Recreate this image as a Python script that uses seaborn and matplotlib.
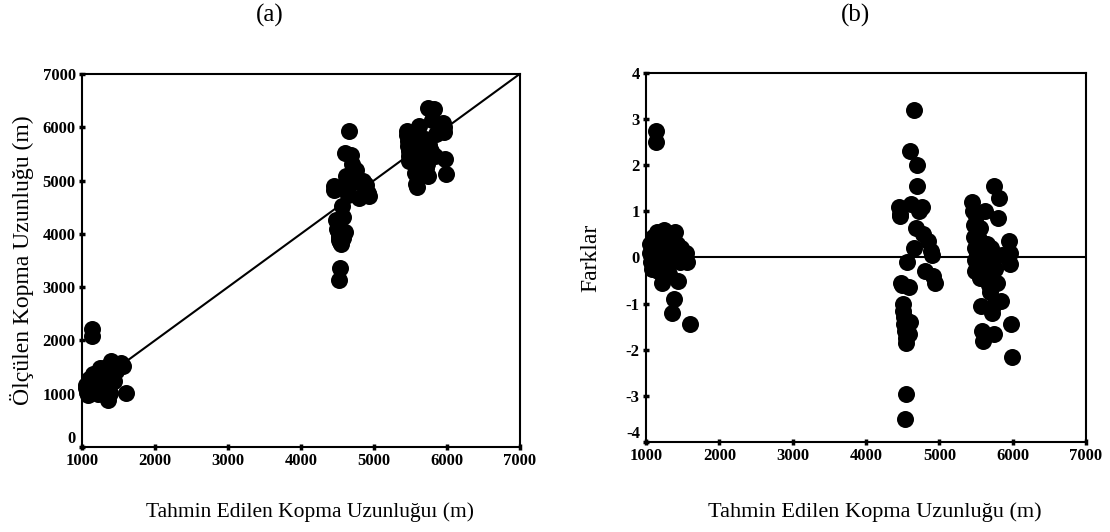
import matplotlib
matplotlib.use("Agg")
import matplotlib.pyplot as plt
import seaborn as sns
import pandas as pd

# ---------------- data ----------------
pred_low = [1050, 1060, 1070, 1080, 1090, 1100, 1110, 1130, 1140, 1150, 1170, 1190, 1200, 1220, 1240,
            1260, 1280, 1300, 1320, 1340, 1360, 1380, 1400, 1420, 1440, 1460, 1480, 1540, 1560, 1600]
meas_low = [1170, 1100, 1030, 980, 1270, 1180, 1110, 2210, 2090, 1370, 1050, 1330, 1240, 1000, 1480,
            1360, 1240, 1480, 1180, 1400, 880, 1020, 1620, 1540, 1240, 1420, 1560, 1580, 1520, 1020]
diff_low = [0.3, 0.1, -0.1, -0.25, 0.45, 0.2, 0.0, 2.75, 2.5, 0.55, -0.3, 0.35, 0.1, -0.55, 0.6,
            0.25, -0.1, 0.45, -0.35, 0.15, -1.2, -0.9, 0.55, 0.3, -0.5, -0.1, 0.2, 0.1, -0.1, -1.45]

pred_mid = [4450, 4460, 4470, 4480, 4490, 4500, 4510, 4520, 4520, 4530, 4540, 4550, 4540, 4530, 4560,
            4580, 4600, 4620, 4650, 4660, 4680, 4690, 4700, 4720, 4760, 4780, 4800, 4850, 4880, 4900,
            4920, 4940, 4600, 4580]
meas_mid = [4890, 4820, 4850, 4260, 4250, 4100, 4050, 4000, 3940, 3890, 3840, 3810, 3360, 3130, 4520,
            4320, 5520, 5080, 4730, 5940, 4940, 5490, 5320, 5120, 5200, 4980, 4680, 4990, 4940, 4920,
            4760, 4720, 4040, 3920]
diff_mid = [1.1, 0.9, 0.95, -0.55, -0.6, -1.0, -1.15, -1.3, -1.45, -1.6, -1.75, -1.85, -2.95, -3.5, -0.1,
            -0.65, 2.3, 1.15, 0.2, 3.2, 0.65, 2.0, 1.55, 1.0, 1.1, 0.5, -0.3, 0.35, 0.15, 0.05,
            -0.4, -0.55, -1.4, -1.65]

pred_high = [5450, 5460, 5470, 5470, 5480, 5480, 5490, 5500, 5510, 5520, 5540, 5550, 5560, 5570, 5580,
             5600, 5600, 5620, 5640, 5650, 5660, 5680, 5690, 5700, 5720, 5730, 5740, 5750, 5760, 5780,
             5800, 5820, 5840, 5860, 5950, 5960, 5970, 5980, 5990]
meas_high = [5930, 5860, 5750, 5650, 5560, 5460, 5370, 5860, 5550, 5440, 5700, 5810, 5380, 5150, 4940,
             4880, 5620, 6020, 5500, 5770, 5620, 5440, 5390, 5780, 5240, 5310, 5080, 6370, 5660, 5560,
             6140, 6340, 5460, 5880, 6090, 6000, 5910, 5400, 5130]
diff_high = [1.2, 1.0, 0.7, 0.45, 0.2, -0.05, -0.3, 0.9, 0.1, -0.2, 0.4, 0.65, -0.45, -1.05, -1.6,
             -1.8, 0.05, 1.0, -0.35, 0.3, -0.1, -0.6, -0.75, 0.2, -1.2, -1.05, -1.65, 1.55, -0.25, -0.55,
             0.85, 1.3, -0.95, 0.05, 0.35, 0.1, -0.15, -1.45, -2.15]

ref_line_x = [1000, 7000]
ref_line_y = [1000, 7000]
zero_line_x = [1000, 7000]
zero_line_y = [0, 0]

x_ticks = [1000, 2000, 3000, 4000, 5000, 6000, 7000]
y_ticks_a = [0, 1000, 2000, 3000, 4000, 5000, 6000, 7000]
y_ticks_b = [-4, -3, -2, -1, 0, 1, 2, 3, 4]

title_a = "(a)"
title_b = "(b)"
xlabel_a = "Tahmin Edilen Kopma Uzunluğuı (m)"
xlabel_b = "Tahmin Edilen Kopma Uzunluğu (m)"
ylabel_a = "Ölçülen Kopma Uzunluğu (m)"
ylabel_b = "Farklar"

df = pd.DataFrame({
    "pred": pred_low + pred_mid + pred_high,
    "meas": meas_low + meas_mid + meas_high,
    "diff": diff_low + diff_mid + diff_high,
})

# ---------------- style ----------------
sns.set_theme(style="white")
plt.rcParams['font.family'] = ['Liberation Serif', 'DejaVu Serif']

fig = plt.figure(figsize=(11.1, 5.32), dpi=100)
ax1 = fig.add_axes([0.0739, 0.1598, 0.3942, 0.701])
ax2 = fig.add_axes([0.582, 0.1692, 0.3964, 0.6936])

marker_size = 150

# panel (a)
sns.lineplot(x=ref_line_x, y=ref_line_y, ax=ax1, color="black", linewidth=1.5)
sns.scatterplot(data=df, x="pred", y="meas", ax=ax1, color="black", s=marker_size,
                linewidth=0, clip_on=False, zorder=3)
ax1.set_xlim(1000, 7000)
ax1.set_ylim(0, 7000)
ax1.set_yticks(y_ticks_a)
ax1.set_yticklabels([str(v) for v in y_ticks_a])

# panel (b)
sns.lineplot(x=zero_line_x, y=zero_line_y, ax=ax2, color="black", linewidth=1.5)
sns.scatterplot(data=df, x="pred", y="diff", ax=ax2, color="black", s=marker_size,
                linewidth=0, clip_on=False, zorder=3)
ax2.set_xlim(1000, 7000)
ax2.set_ylim(-4, 4)
ax2.set_yticks(y_ticks_b)
ax2.set_yticklabels([str(v) for v in y_ticks_b])

for ax, xl, yl, ycoord, xly in ((ax1, xlabel_a, ylabel_a, -0.137, -0.174),
                                (ax2, xlabel_b, ylabel_b, -0.125, -0.19)):
    ax.set_xticks(x_ticks)
    ax.set_xticklabels([str(v) for v in x_ticks])
    for lbl in ax.get_xticklabels() + ax.get_yticklabels():
        lbl.set_fontweight("bold")
        lbl.set_fontsize(12)
    # lowest y label sits a little above the corner, as in the original
    ax.get_yticklabels()[0].set_va("bottom")
    for s in ax.spines.values():
        s.set_visible(True)
        s.set_color("black")
        s.set_linewidth(1.5)
    ax.tick_params(axis="both", which="major", bottom=True, left=True, direction="inout",
                   length=5, width=2.5, color="black", pad=2, labelcolor="black")
    ax.set_xlabel(xl, fontsize=15.5, color="black")
    ax.set_ylabel(yl, fontsize=17, color="black")
    ax.xaxis.label.set_va("center")
    ax.yaxis.label.set_va("center")
    ax.xaxis.set_label_coords(0.52, xly)
    ax.yaxis.set_label_coords(ycoord, 0.5)
    ax.grid(False)

ax2.xaxis.label.set_fontsize(16)

fig.text(270 / 1110, 1 - 15 / 532, title_a, ha="center", va="center", fontsize=18, color="black")
fig.text(856 / 1110, 1 - 15 / 532, title_b, ha="center", va="center", fontsize=18, color="black")

fig.savefig("out.png", dpi=100, facecolor="white")
